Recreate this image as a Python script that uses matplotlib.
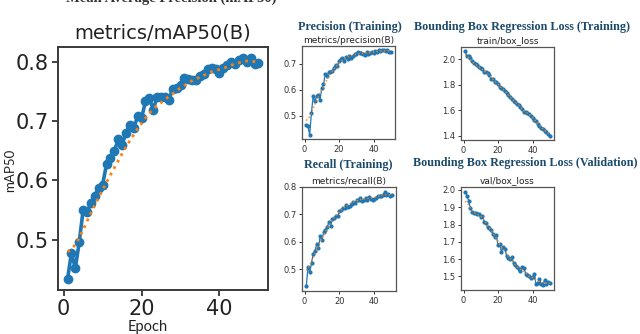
import matplotlib
matplotlib.use("Agg")
import matplotlib.pyplot as plt
import numpy as np

epochs = list(range(1, 51))

map50 = [0.434,0.478,0.452,0.496,0.550,0.547,0.562,0.574,0.588,0.593,0.627,0.638,0.649,0.669,0.660,0.680,0.694,0.688,0.708,0.705,
         0.733,0.739,0.719,0.741,0.740,0.741,0.736,0.754,0.755,0.761,0.772,0.770,0.769,0.769,0.776,0.779,0.788,0.789,0.787,0.780,
         0.790,0.794,0.800,0.796,0.803,0.806,0.800,0.806,0.796,0.797]
map50_smooth = [0.480,0.484,0.492,0.503,0.517,0.531,0.545,0.558,0.571,0.584,0.597,0.609,0.621,0.633,0.645,0.656,0.667,0.677,0.687,0.696,
                0.705,0.713,0.720,0.726,0.731,0.736,0.741,0.746,0.751,0.756,0.760,0.764,0.768,0.771,0.774,0.777,0.780,0.783,0.785,0.787,
                0.789,0.791,0.794,0.796,0.798,0.800,0.801,0.801,0.800,0.799]

precision = [0.465,0.459,0.427,0.510,0.574,0.555,0.574,0.580,0.560,0.606,0.620,0.658,0.651,0.667,0.667,0.670,0.683,0.696,0.690,0.709,
             0.718,0.722,0.709,0.726,0.718,0.728,0.722,0.728,0.735,0.738,0.744,0.741,0.741,0.738,0.731,0.744,0.738,0.741,0.745,0.741,
             0.747,0.745,0.751,0.747,0.751,0.751,0.749,0.751,0.744,0.744]
precision_smooth = [0.482,0.487,0.497,0.511,0.527,0.543,0.558,0.572,0.586,0.600,0.614,0.627,0.639,0.650,0.660,0.669,0.678,0.687,0.695,0.702,
                    0.709,0.714,0.719,0.722,0.725,0.728,0.730,0.732,0.734,0.736,0.737,0.738,0.739,0.740,0.740,0.741,0.741,0.742,0.743,0.744,
                    0.745,0.746,0.747,0.748,0.749,0.749,0.749,0.749,0.748,0.747]

recall = [0.437,0.507,0.488,0.522,0.556,0.567,0.591,0.577,0.622,0.607,0.634,0.644,0.654,0.671,0.659,0.683,0.687,0.693,0.693,0.711,
          0.717,0.723,0.723,0.735,0.727,0.732,0.739,0.744,0.741,0.751,0.754,0.760,0.748,0.751,0.760,0.754,0.763,0.756,0.754,0.756,
          0.760,0.766,0.768,0.766,0.772,0.780,0.772,0.776,0.768,0.771]
recall_smooth = [0.495,0.503,0.514,0.527,0.541,0.556,0.571,0.586,0.600,0.613,0.625,0.637,0.648,0.659,0.669,0.679,0.688,0.696,0.703,0.710,
                 0.716,0.722,0.727,0.731,0.735,0.739,0.742,0.745,0.748,0.750,0.752,0.754,0.755,0.756,0.757,0.758,0.759,0.760,0.761,0.762,
                 0.764,0.766,0.768,0.770,0.771,0.772,0.772,0.772,0.771,0.770]

train_box = [2.065,2.030,2.030,2.010,1.985,1.970,1.965,1.960,1.940,1.930,1.925,1.905,1.900,1.890,1.875,1.850,1.845,1.825,1.820,1.805,
             1.785,1.775,1.765,1.750,1.735,1.720,1.705,1.690,1.675,1.665,1.650,1.645,1.630,1.610,1.590,1.585,1.580,1.575,1.555,1.540,
             1.525,1.515,1.495,1.480,1.465,1.455,1.440,1.430,1.415,1.400]
train_box_smooth = [2.040,2.030,2.015,2.000,1.985,1.972,1.962,1.953,1.942,1.931,1.921,1.909,1.899,1.888,1.874,1.858,1.845,1.831,1.819,1.805,
                    1.790,1.777,1.764,1.750,1.736,1.721,1.706,1.692,1.678,1.665,1.652,1.641,1.628,1.612,1.597,1.587,1.579,1.570,1.556,1.542,
                    1.528,1.514,1.499,1.484,1.469,1.456,1.443,1.431,1.418,1.408]

val_box = [1.990,1.965,1.938,1.893,1.874,1.868,1.864,1.859,1.859,1.845,1.849,1.816,1.810,1.783,1.777,1.767,1.744,1.725,1.738,1.680,
           1.686,1.641,1.670,1.661,1.616,1.609,1.603,1.612,1.578,1.564,1.554,1.545,1.531,1.554,1.550,1.516,1.506,1.500,1.492,1.496,
           1.512,1.457,1.461,1.486,1.453,1.448,1.477,1.453,1.467,1.461]
val_box_smooth = [1.935,1.925,1.910,1.893,1.880,1.870,1.863,1.858,1.854,1.848,1.839,1.825,1.810,1.795,1.781,1.768,1.754,1.738,1.721,1.703,
                  1.685,1.670,1.658,1.645,1.630,1.616,1.604,1.594,1.581,1.568,1.556,1.547,1.540,1.535,1.530,1.520,1.509,1.500,1.496,1.493,
                  1.487,1.478,1.472,1.469,1.465,1.463,1.462,1.461,1.460,1.460]

W, H = 640, 334
fig = plt.figure(figsize=(W / 100, H / 100), dpi=100)
fig.patch.set_facecolor("white")

def px_axes(left, top, right, bottom):
    return fig.add_axes([left / W, 1 - bottom / H, (right - left) / W, (bottom - top) / H])

BLUE = "#1f77b4"
ORANGE = "#ff7f0e"
SPINE = "#3a3a3a"
TITLE_COLOR = "#1b4a6b"

# Main chart
ax = px_axes(58, 47, 268, 290)
ax.plot(epochs, map50, color=BLUE, lw=2.6, marker="o", ms=6)
ax.plot(epochs, map50_smooth, color=ORANGE, lw=2.0, ls=":")
ax.set_title("metrics/mAP50(B)", fontsize=14, pad=6, color="#222222")
ax.set_yticks([0.5, 0.6, 0.7, 0.8])
ax.set_xticks([0, 20, 40])
ax.tick_params(labelsize=15, length=4, width=1.2, pad=2.5, colors="#222222")
for s in ax.spines.values():
    s.set_color(SPINE)
    s.set_linewidth(1.4)
fig.text(10 / W, 1 - 170 / H, "mAP50", rotation=90, ha="center", va="center",
         fontsize=9.5, family="Lato", color="#222222")
fig.text(148 / W, 1 - 327 / H, "Epoch", ha="center", va="center",
         fontsize=10.5, family="Lato", color="#222222")

def small(ax, y, ys, title, yticks):
    ax.plot(epochs, y, color=BLUE, lw=0.9, marker="o", ms=2.0)
    ax.plot(epochs, ys, color=ORANGE, lw=1.0, ls=":")
    ax.set_title(title, fontsize=6.5, pad=2.5, color="#222222")
    ax.set_xticks([0, 20, 40])
    ax.set_yticks(yticks)
    ax.tick_params(labelsize=6, length=2.5, width=0.7, pad=1.5, colors="#333333")
    for s in ax.spines.values():
        s.set_color("#555555")
        s.set_linewidth(0.9)

a1 = px_axes(302, 46, 395, 139)
small(a1, precision, precision_smooth, "metrics/precision(B)", [0.5, 0.6, 0.7])
a2 = px_axes(302, 187, 396, 291)
small(a2, recall, recall_smooth, "metrics/recall(B)", [0.5, 0.6, 0.7, 0.8])
a3 = px_axes(461, 47, 554, 140)
small(a3, train_box, train_box_smooth, "train/box_loss", [1.4, 1.6, 1.8, 2.0])
a4 = px_axes(461, 187, 554, 290)
small(a4, val_box, val_box_smooth, "val/box_loss", [1.5, 1.6, 1.7, 1.8, 1.9, 2.0])

serif = dict(family="Liberation Serif", weight="bold", color=TITLE_COLOR, ha="center", va="center")
fig.text(350 / W, 1 - 27 / H, "Precision (Training)", fontsize=8.7, **serif)
fig.text(522 / W, 1 - 27 / H, "Bounding Box Regression Loss (Training)", fontsize=8.7, **serif)
fig.text(348 / W, 1 - 165 / H, "Recall (Training)", fontsize=8.7, **serif)
fig.text(525 / W, 1 - 163 / H, "Bounding Box Regression Loss (Validation)", fontsize=8.7, **serif)

# Clipped heading at the very top (only its lower part shows, as in the reference)
fig.text(171 / W, 1 - 2 / H, "Mean Average Precision (mAP50)", family="Liberation Serif",
         weight="bold", fontsize=10.5, color="#333333", ha="center", va="baseline")

fig.savefig("out.png", dpi=100)
